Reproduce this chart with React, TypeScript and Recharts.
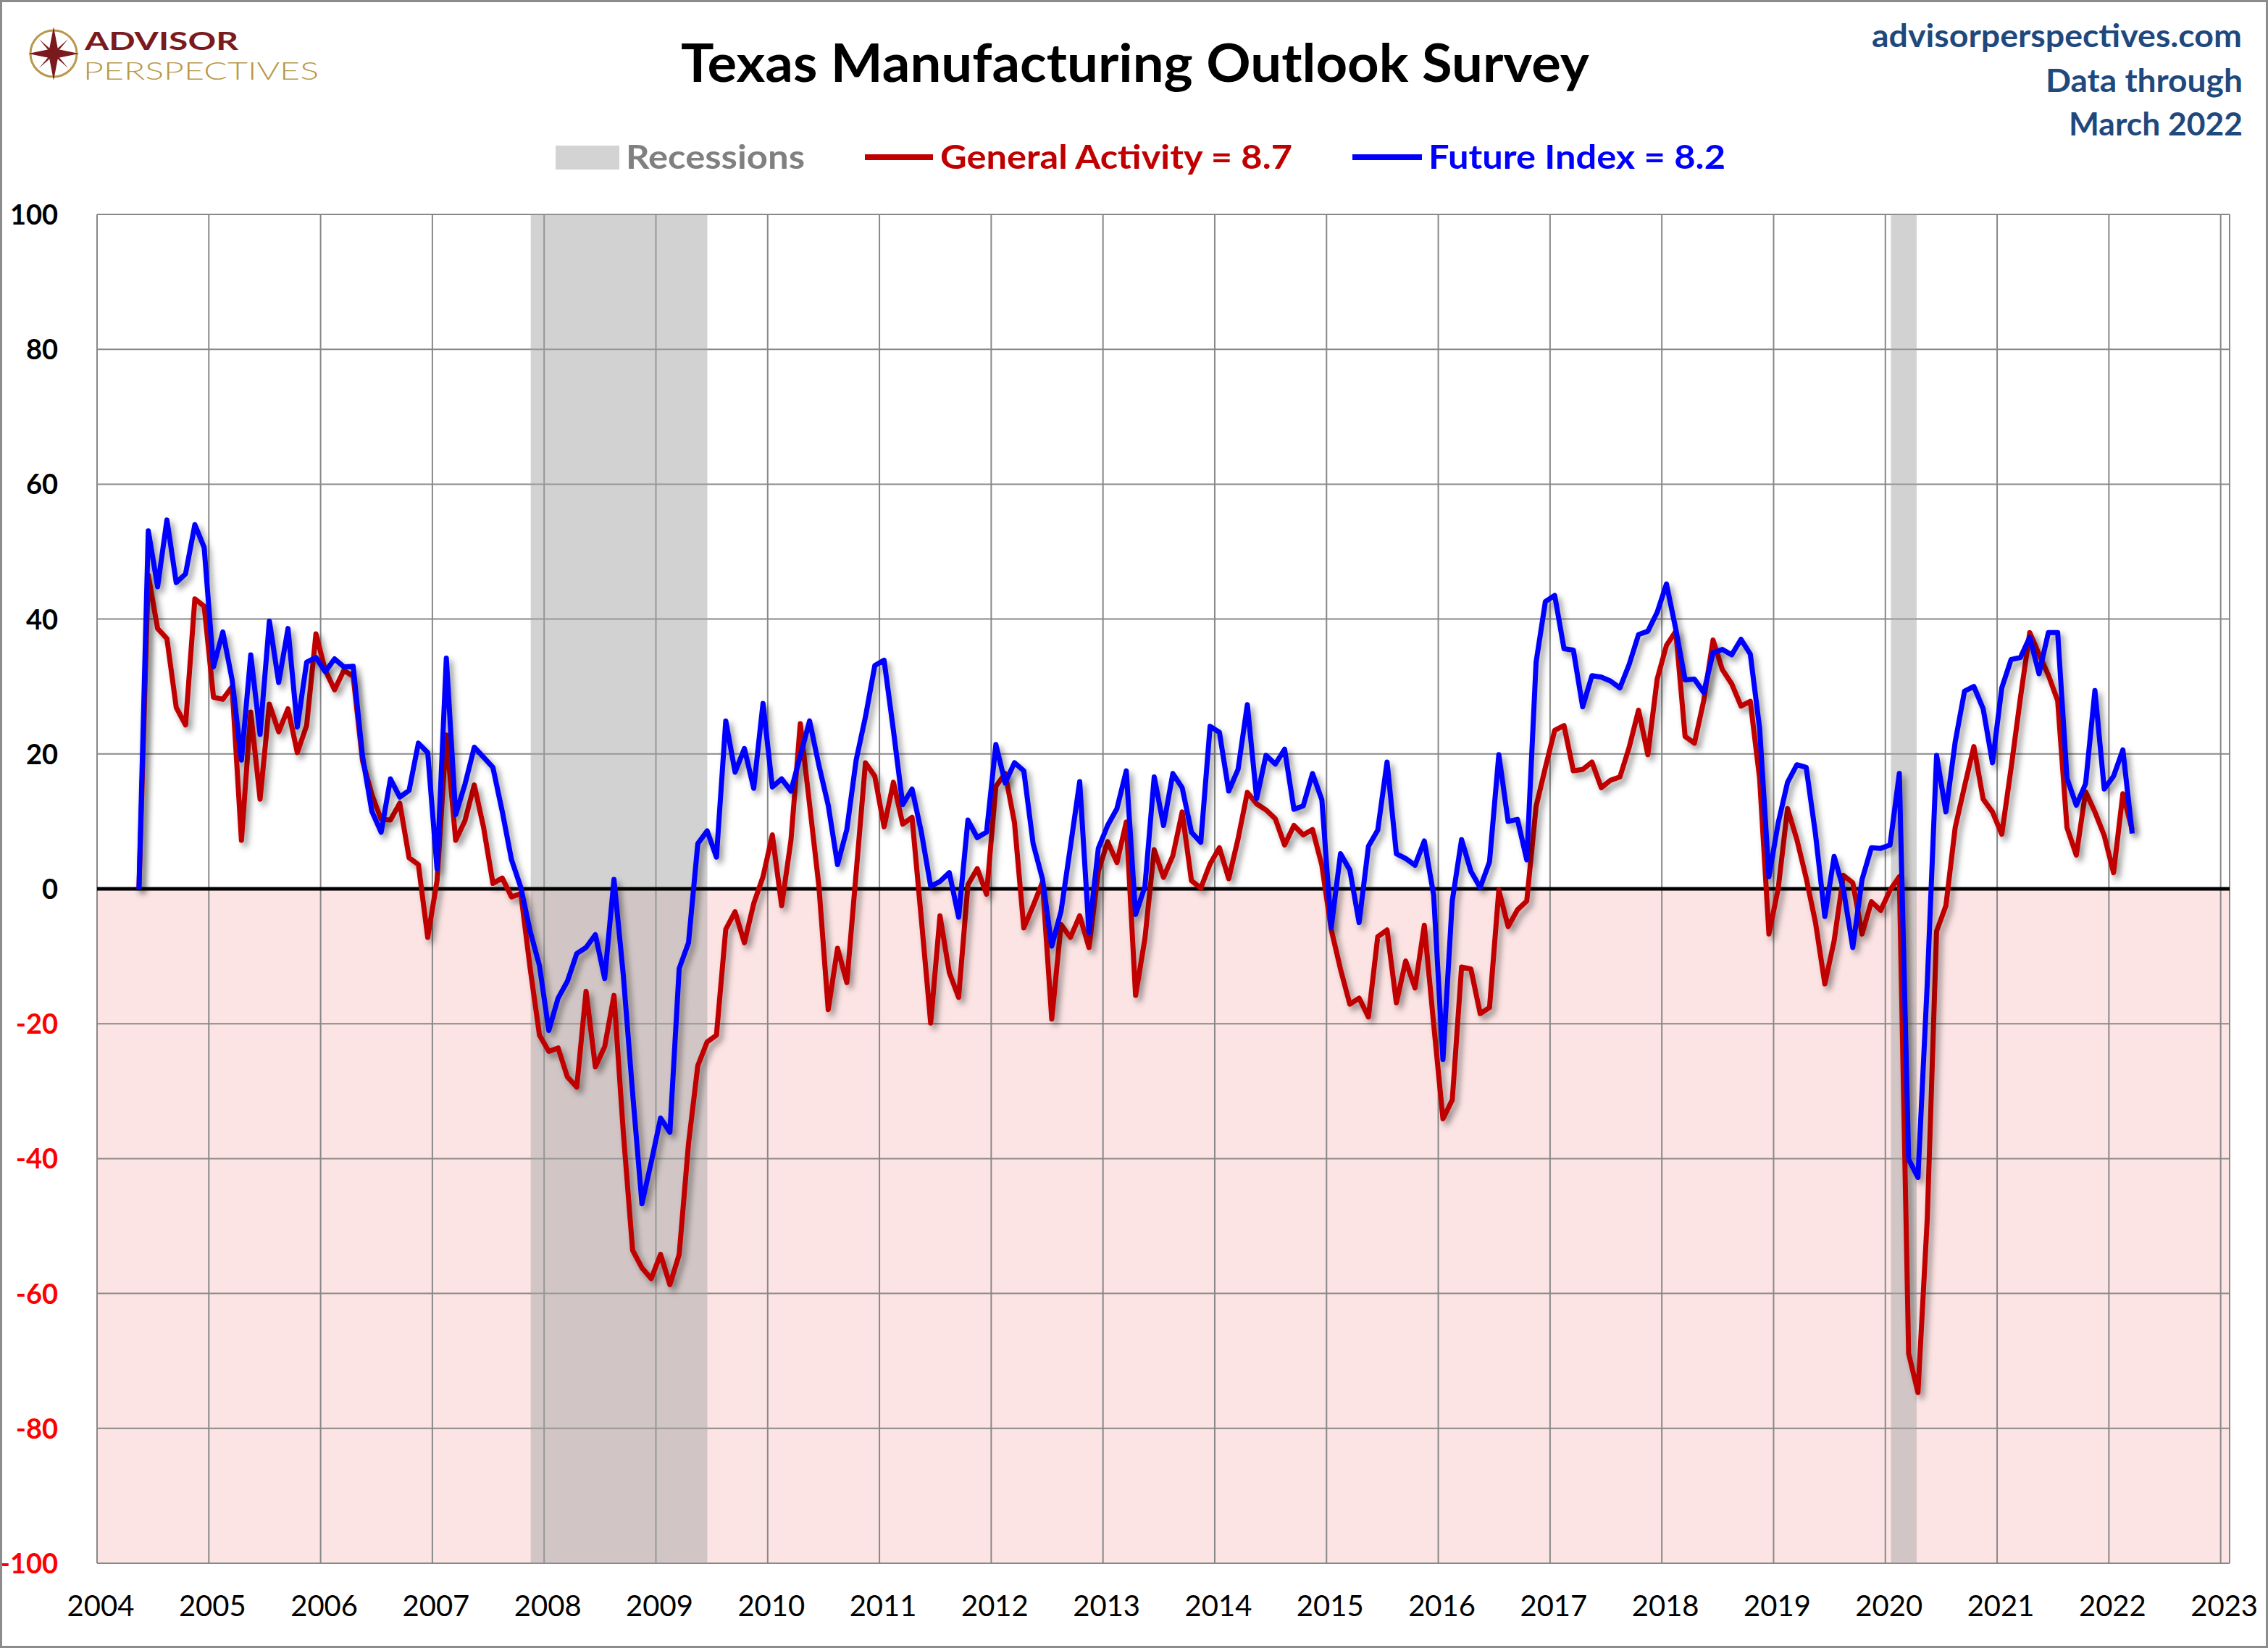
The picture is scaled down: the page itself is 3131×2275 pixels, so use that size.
import React from 'react';
import { LineChart, Line, XAxis, YAxis, CartesianGrid, ReferenceArea, ReferenceLine } from 'recharts';

// First observation: May 2004, monthly through March 2022
const startYear = 2004;
const startMonth = 5;

const generalActivity = [
  // 2004 May-Dec
  0, 46.5, 38.6, 37.1, 26.9, 24.3, 43.0, 41.9,
  // 2005
  28.4, 28.1, 30.0, 7.2, 26.2, 13.3, 27.4, 23.3, 26.7, 20.2, 24.2, 37.8,
  // 2006
  32.4, 29.5, 32.4, 31.5, 19.0, 14.0, 10.3, 10.2, 12.7, 4.6, 3.6, -7.2,
  // 2007
  1.2, 22.8, 7.2, 10.1, 15.4, 9.1, 0.8, 1.6, -1.2, -0.7, -11.8, -21.7,
  // 2008
  -24.1, -23.6, -27.9, -29.4, -15.2, -26.4, -23.4, -15.8, -36.1, -53.6, -56.2, -57.8,
  // 2009
  -54.2, -58.7, -54.2, -37.8, -26.2, -22.7, -21.7, -6.0, -3.4, -8.0, -2.2, 1.8,
  // 2010
  8.0, -2.5, 7.2, 24.5, 12.5, 0.4, -17.9, -8.8, -13.9, 2.4, 18.7, 16.7,
  // 2011
  9.2, 15.8, 9.6, 10.6, -4.5, -19.9, -4.0, -12.4, -16.1, 0.6, 3.0, -0.8,
  // 2012
  15.2, 17.1, 9.8, -5.8, -2.5, 1.0, -19.3, -5.3, -7.2, -4.0, -8.7, 2.6,
  // 2013
  7.0, 3.9, 9.9, -15.8, -7.4, 5.8, 1.7, 4.9, 11.4, 1.2, 0.1, 3.7,
  // 2014
  6.1, 1.5, 7.4, 14.3, 12.6, 11.7, 10.4, 6.5, 9.4, 8.0, 8.8, 3.5,
  // 2015
  -6.0, -11.9, -17.1, -16.2, -19.0, -7.1, -6.1, -16.9, -10.7, -14.7, -5.4, -20.0,
  // 2016
  -34.1, -31.3, -11.6, -11.9, -18.5, -17.6, -0.2, -5.6, -3.1, -1.8, 12.2, 18.0,
  // 2017
  23.5, 24.2, 17.5, 17.7, 18.8, 15.0, 16.1, 16.6, 21.0, 26.5, 19.9, 31.1,
  // 2018
  36.1, 38.2, 22.6, 21.6, 27.9, 36.9, 32.5, 30.4, 27.1, 27.8, 16.4, -6.7,
  // 2019
  0.1, 11.9, 7.3, 1.6, -5.0, -14.1, -7.7, 2.0, 0.9, -6.7, -1.9, -3.2,
  // 2020
  -0.2, 1.8, -68.9, -74.7, -48.9, -6.3, -2.5, 9.1, 15.2, 21.1, 13.3, 11.4,
  // 2021
  8.1, 17.9, 28.3, 38.0, 34.8, 31.7, 27.9, 9.1, 5.0, 14.4, 11.4, 7.9,
  // 2022 Jan-Mar
  2.4, 14.1, 8.7,
];

const futureIndex = [
  // 2004 May-Dec
  0, 53.1, 44.8, 54.7, 45.4, 46.7, 54.0, 50.6,
  // 2005
  32.9, 38.1, 31.0, 19.1, 34.7, 22.9, 39.7, 30.6, 38.6, 24.0, 33.6, 34.3,
  // 2006
  32.2, 34.1, 32.9, 33.0, 19.7, 11.5, 8.4, 16.3, 13.6, 14.6, 21.6, 20.2,
  // 2007
  3.0, 34.2, 11.0, 15.5, 21.0, 19.5, 18.0, 11.5, 4.3, 0.2, -6.3, -11.4,
  // 2008
  -21.0, -16.2, -13.7, -9.6, -8.7, -6.8, -13.3, 1.4, -12.8, -30.3, -46.7, -40.5,
  // 2009
  -34.0, -36.1, -11.8, -8.0, 6.7, 8.6, 4.7, 24.9, 17.3, 20.8, 14.9, 27.5,
  // 2010
  15.1, 16.3, 14.5, 19.7, 24.9, 18.3, 12.4, 3.6, 8.8, 19.1, 25.5, 33.1,
  // 2011
  33.9, 23.5, 12.5, 14.8, 8.4, 0.4, 1.1, 2.4, -4.2, 10.2, 7.6, 8.4,
  // 2012
  21.4, 15.7, 18.7, 17.5, 6.7, 1.5, -8.5, -3.3, 6.2, 15.9, -6.5, 6.0,
  // 2013
  9.4, 11.9, 17.5, -3.8, 0.3, 16.6, 9.4, 17.1, 15.0, 8.4, 6.9, 24.1,
  // 2014
  23.2, 14.5, 17.7, 27.3, 13.4, 19.8, 18.5, 20.7, 11.8, 12.3, 17.1, 13.2,
  // 2015
  -5.8, 5.2, 2.8, -5.0, 6.3, 8.7, 18.8, 5.2, 4.5, 3.5, 7.1, -0.9,
  // 2016
  -25.3, -1.8, 7.3, 2.6, 0.2, 4.0, 19.9, 10.0, 10.3, 4.3, 33.6, 42.6,
  // 2017
  43.5, 35.6, 35.4, 27.0, 31.6, 31.4, 30.8, 29.8, 33.3, 37.7, 38.2, 41.0,
  // 2018
  45.2, 38.5, 31.0, 31.1, 29.1, 35.0, 35.5, 34.7, 37.0, 34.8, 23.8, 1.8,
  // 2019
  9.8, 15.8, 18.4, 18.0, 8.1, -4.1, 4.8, -0.1, -8.7, 1.4, 6.1, 6.0,
  // 2020
  6.5, 17.1, -40.1, -42.8, -14.0, 19.8, 11.4, 21.8, 29.3, 30.0, 26.7, 18.7,
  // 2021
  29.8, 34.0, 34.3, 37.3, 31.9, 38.0, 38.0, 16.4, 12.4, 15.6, 29.4, 14.8,
  // 2022 Jan-Mar
  16.7, 20.6, 8.2,
];

const yearTicks = [
  2004, 2005, 2006, 2007, 2008, 2009, 2010, 2011, 2012, 2013,
  2014, 2015, 2016, 2017, 2018, 2019, 2020, 2021, 2022, 2023,
];
const valueTicks = [-100, -80, -60, -40, -20, 0, 20, 40, 60, 80, 100];

const recessionStarts = [2007.88, 2020.05];
const recessionEnds = [2009.46, 2020.28];

const data = generalActivity.map((g, i) => {
  const mi = startMonth - 1 + i;
  const year = startYear + Math.floor(mi / 12);
  const month = (mi % 12) + 1;
  return { t: year + (month - 0.5) / 12, general: g, future: futureIndex[i] };
});

const FONT = 'Lato, "Open Sans", sans-serif';

const YTick = (props: any) => {
  const { x, y, payload } = props;
  const v = payload.value;
  return (
    <text x={x} y={y} dy={14} textAnchor="end" fontFamily={FONT} fontWeight={700} fontSize={38}
      fill={v < 0 ? '#FF0000' : '#000000'}>{v}</text>
  );
};

const XTick = (props: any) => {
  const { x, y, payload } = props;
  return (
    <text x={x + 5} y={y + 73} textAnchor="middle" fontFamily={FONT} fontWeight={400} fontSize={40}
      fill="#000000">{payload.value}</text>
  );
};

const stripeFill = ['#FFFFFF', '#FFFFFF', '#FFFFFF', '#FFFFFF', '#FFFFFF',
  '#FDE4E4', '#FDE4E4', '#FDE4E4', '#FDE4E4', '#FDE4E4'];

export default function App() {
  return (
    <div style={{ position: 'absolute', left: 0, top: 0, width: 3131, height: 2275, background: '#fff', overflow: 'hidden' }}>
      <div style={{ position: 'absolute', left: 0, top: 0 }}>
        <LineChart width={3131} height={2275} data={data}
          margin={{ top: 296, right: 53, bottom: 57, left: 0 }}>
          <defs>
            <filter id="lineShadow" x="-5%" y="-5%" width="110%" height="110%">
              <feDropShadow dx="5" dy="6" stdDeviation="4" floodColor="#000" floodOpacity="0.4" />
            </filter>
          </defs>
          <CartesianGrid stroke="#888888" strokeWidth={2} horizontalFill={stripeFill} fillOpacity={1} />
          <XAxis type="number" dataKey="t" domain={[2004, 2023.08]} ticks={yearTicks} interval={0}
            allowDataOverflow height={60} tickLine={false} axisLine={false} tickSize={0} tickMargin={0}
            tick={<XTick />} />
          <YAxis type="number" domain={[-100, 100]} ticks={valueTicks} interval={0} width={134}
            allowDataOverflow tickLine={false} axisLine={false} tickSize={0} tickMargin={54}
            tick={<YTick />} />
          {recessionStarts.map((s, i) => (
            <ReferenceArea key={i} x1={s} x2={recessionEnds[i]} y1={-100} y2={100}
              fill="#A6A6A6" fillOpacity={0.5} stroke="none" />
          ))}
          <ReferenceLine y={0} stroke="#000000" strokeWidth={5} />
          <Line type="linear" dataKey="general" stroke="#C00000" strokeWidth={7} dot={false}
            strokeLinejoin="round" isAnimationActive={false} filter="url(#lineShadow)" />
          <Line type="linear" dataKey="future" stroke="#0000FF" strokeWidth={7} dot={false}
            strokeLinejoin="round" isAnimationActive={false} filter="url(#lineShadow)" />
        </LineChart>
      </div>
      <svg width={3131} height={290} style={{ position: 'absolute', left: 0, top: 0 }}>
        {/* logo */}
        <circle cx={74} cy={74} r={32} fill="none" stroke="#B8984A" strokeWidth={3} />
        <polygon points="74,37 80,68 109,74 80,80 74,111 68,80 39,74 68,68" fill="#7B1A1E" />
        <polygon points="94,54 79,72 79,76 94,94 77,79 71,79 54,94 69,76 69,72 54,54 71,69 77,69" fill="#7B1A1E" />
        <text x={117} y={69} fontFamily={FONT} fontSize={34} fontWeight={700} fill="#7B1A1E"
          textLength={212} lengthAdjust="spacingAndGlyphs">ADVISOR</text>
        <text x={115} y={110} fontFamily={FONT} fontSize={34} fontWeight={300} fill="#B8984A"
          textLength={325} lengthAdjust="spacingAndGlyphs">PERSPECTIVES</text>
        {/* title */}
        <text x={940} y={113} fontFamily={FONT} fontWeight={700} fontSize={72} fill="#000"
          textLength={1254} lengthAdjust="spacingAndGlyphs">Texas Manufacturing Outlook Survey</text>
        {/* top right */}
        <text x={2584} y={65} fontFamily={FONT} fontWeight={700} fontSize={44} fill="#1F497D"
          textLength={511} lengthAdjust="spacingAndGlyphs">advisorperspectives.com</text>
        <text x={2824} y={127} fontFamily={FONT} fontWeight={700} fontSize={44} fill="#1F497D"
          textLength={272} lengthAdjust="spacingAndGlyphs">Data through</text>
        <text x={2856} y={187} fontFamily={FONT} fontWeight={700} fontSize={44} fill="#1F497D"
          textLength={240} lengthAdjust="spacingAndGlyphs">March 2022</text>
        {/* legend */}
        <rect x={767} y={201} width={88} height={33} fill="#D3D3D3" />
        <text x={864} y={233} fontFamily={FONT} fontWeight={700} fontSize={46} fill="#808080"
          textLength={247} lengthAdjust="spacingAndGlyphs">Recessions</text>
        <line x1={1194} y1={217} x2={1288} y2={217} stroke="#C00000" strokeWidth={8} />
        <text x={1298} y={233} fontFamily={FONT} fontWeight={700} fontSize={46} fill="#C00000"
          textLength={486} lengthAdjust="spacingAndGlyphs">General Activity = 8.7</text>
        <line x1={1867} y1={217} x2={1963} y2={217} stroke="#0000FF" strokeWidth={8} />
        <text x={1972} y={233} fontFamily={FONT} fontWeight={700} fontSize={46} fill="#0000FF"
          textLength={410} lengthAdjust="spacingAndGlyphs">Future Index = 8.2</text>
      </svg>
      <div style={{ position: 'absolute', left: 0, top: 0, width: 3131, height: 2275, boxSizing: 'border-box',
        border: '3px solid #8C8C8C', pointerEvents: 'none' }} />
    </div>
  );
}
